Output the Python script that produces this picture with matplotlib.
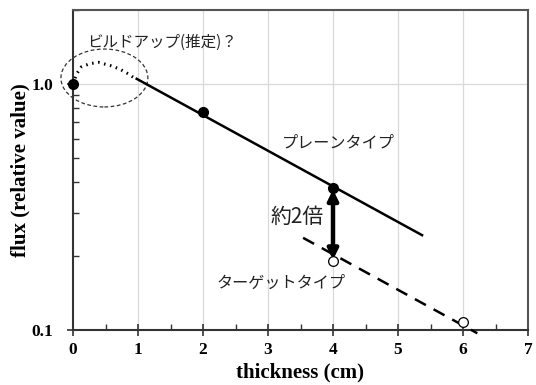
import matplotlib.pyplot as plt
from matplotlib.patches import Ellipse
from matplotlib.ticker import FixedLocator, NullFormatter

# data
plane_x = [0, 2, 4]
plane_y = [1.0, 0.77, 0.378]
target_x = [4, 6]
target_y = [0.19, 0.108]

plane_line_x = [0.98, 5.37]
plane_line_y = [1.05, 0.243]
target_line_x = [3.54, 6.22]
target_line_y = [0.237, 0.097]

buildup_x = [0.0, 0.056, 0.13, 0.26, 0.39, 0.57, 0.72, 0.85, 0.96]
buildup_y = [1.0, 1.10, 1.175, 1.21, 1.225, 1.19, 1.15, 1.10, 1.05]

jp = ['Noto Sans CJK JP', 'DejaVu Sans']
serif = 'Liberation Serif'
W, H = 536, 385

fig = plt.figure(figsize=(W / 100, H / 100), dpi=100)
ax = fig.add_axes([73 / W, 55 / H, 455 / W, 320 / H])

ax.set_yscale('log')
ax.set_xlim(0, 7)
ax.set_ylim(0.1, 2.0)

# grid: vertical at integers, horizontal only at 1.0
for xv in range(1, 7):
    ax.axvline(xv, color='#d9d9d9', lw=0.9, zorder=0)
ax.axhline(1.0, color='#d9d9d9', lw=0.9, zorder=0)

# lines
ax.plot(plane_line_x, plane_line_y, color='black', lw=1.8, zorder=3)
ax.plot(target_line_x, target_line_y, color='black', lw=1.8, ls=(0, (5, 3.5)),
        zorder=3, clip_on=False)
ax.plot(buildup_x, buildup_y, color='black', lw=2.2, ls=(0, (0.5, 1.5)), zorder=3)

# points
ax.plot(plane_x, plane_y, 'o', color='black', ms=7, zorder=5, clip_on=False)
ax.plot(target_x, target_y, 'o', mfc='white', mec='black', mew=0.9, ms=7,
        zorder=5, clip_on=False)

# ellipse around build-up
ell = Ellipse((0.069, 0.7875), 0.191, 0.181, transform=ax.transAxes,
              fill=False, ec='#333333', lw=0.9, ls=(0, (3, 2)), clip_on=False)
ax.add_patch(ell)

# double arrow between plane and target at 4 cm
ax.annotate('', xy=(4, 0.193), xytext=(4, 0.372),
            arrowprops=dict(arrowstyle='<|-|>', color='black', lw=3.2,
                            mutation_scale=15, shrinkA=0, shrinkB=0))

# annotations (pixel positions from top-left)
def px_text(x, y, s, size):
    fig.text(x / W, 1 - y / H, s, fontsize=size, family=jp,
             va='center', ha='left', color='#222222')

px_text(87, 42, 'ビルドアップ(推定)？', 11.2)
px_text(282, 143, 'プレーンタイプ', 11.6)
px_text(271, 217, '約2倍', 15)
px_text(217, 283, 'ターゲットタイプ', 11.6)

# ticks
ax.set_xticks(range(0, 8))
ax.xaxis.set_minor_locator(FixedLocator([0.5 + i for i in range(7)]))
ax.yaxis.set_major_locator(FixedLocator([0.1, 1.0]))
ax.yaxis.set_minor_locator(FixedLocator([0.2, 0.3, 0.4, 0.5, 0.6, 0.7, 0.8, 0.9, 2.0]))
ax.yaxis.set_minor_formatter(NullFormatter())
ax.set_yticklabels(['0.1', '1.0'])
ax.tick_params(which='major', direction='inout', length=8, width=1.2, color='#333333')
ax.tick_params(which='minor', direction='in', length=4, width=1.0, color='#333333')
ax.tick_params(axis='x', pad=5)
ax.tick_params(axis='y', pad=10)
for lab in ax.get_xticklabels() + ax.get_yticklabels():
    lab.set_fontfamily(serif)
    lab.set_fontweight('bold')
    lab.set_fontsize(12.5)

for side in ['left', 'bottom']:
    ax.spines[side].set_color('#333333')
    ax.spines[side].set_linewidth(1.5)
for side in ['top', 'right']:
    ax.spines[side].set_color('#555555')
    ax.spines[side].set_linewidth(1.5)

ax.set_xlabel('thickness (cm)', family=serif, fontweight='bold', fontsize=15, labelpad=3)
ax.set_ylabel('flux (relative value)', family=serif, fontweight='bold', fontsize=15, labelpad=1)

fig.savefig('out.png', dpi=100)
